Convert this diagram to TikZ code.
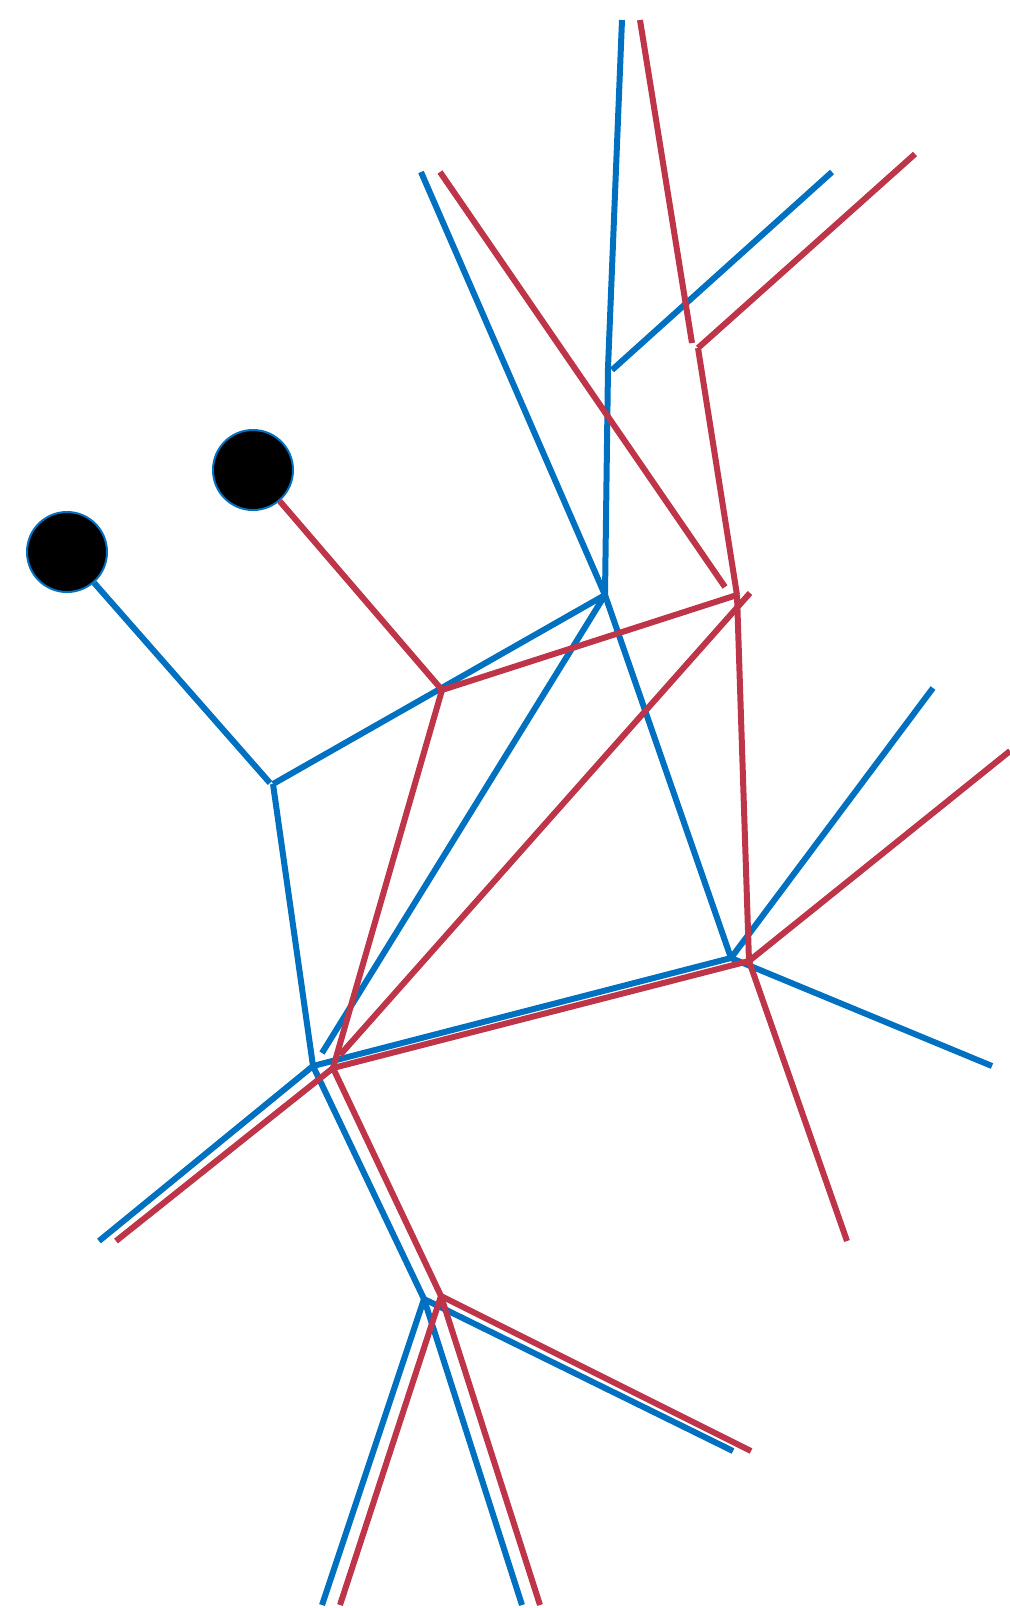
\documentclass[tikz,border=0pt]{standalone}
\usepackage{xcolor}
\usepackage{tikz}
\usetikzlibrary{positioning}

\definecolor{treeblue}{RGB}{0,112,192}
\definecolor{treered}{RGB}{190,52,72}

\begin{document}
\begin{tikzpicture}[x=0.1mm, y=-0.1mm,
        blueline/.style={draw=treeblue, line width=0.6mm},
        redline/.style={draw=treered, line width=0.6mm},
        dot/.style={circle, draw=treeblue, line width=0.2mm, fill=black,
                    minimum size=8mm, inner sep=0pt}]

        \useasboundingbox (0,0) rectangle (1010,1608);

        % blue tree
        \coordinate (bTop)  at (622,20);
        \coordinate (bTL)   at (421,172);
        \coordinate (bUR)   at (832,172);
        \coordinate (bJa)   at (608,368);
        \coordinate (bJa2)  at (612,370);
        \coordinate (bJb)   at (605,595);
        \coordinate (bJc)   at (270,783);
        \coordinate (bJc2)  at (273,784);
        \coordinate (bJd)   at (313,1066);
        \coordinate (bJdd)  at (322,1053);
        \coordinate (bJe)   at (731,958);
        \coordinate (bUR2)  at (933,688);
        \coordinate (bLR)   at (992,1066);
        \coordinate (bLL)   at (99,1241);
        \coordinate (bJf)   at (424,1299);
        \coordinate (bBL)   at (322,1605);
        \coordinate (bBR)   at (522,1605);
        \coordinate (bBRR)  at (733,1451);

        % red tree
        \coordinate (rTop)  at (640,20);
        \coordinate (rTL)   at (440,172);
        \coordinate (rTLe)  at (725,587);
        \coordinate (rUR)   at (915,154);
        \coordinate (rJa)   at (692,343);
        \coordinate (rJa2)  at (698,348);
        \coordinate (rJb)   at (737,595);
        \coordinate (rJb2)  at (750,593);
        \coordinate (rJc)   at (442,690);
        \coordinate (rJd)   at (333,1068);
        \coordinate (rJdd)  at (340,1055);
        \coordinate (rJe)   at (749,961);
        \coordinate (rRE)   at (1010,751);
        \coordinate (rLR)   at (847,1241);
        \coordinate (rLL)   at (116,1241);
        \coordinate (rJf)   at (441,1296);
        \coordinate (rBL)   at (340,1605);
        \coordinate (rBR)   at (540,1605);
        \coordinate (rBRR)  at (751,1451);

        \node[dot] (leafA) at (67,552) {};
        \node[dot] (leafB) at (253,470) {};

        \draw[blueline] (bTop) -- (bJa);
        \draw[blueline] (bJa2) -- (bUR);
        \draw[blueline] (bJa)  -- (bJb);
        \draw[blueline] (bTL)  -- (bJb) -- (bJe);
        \draw[blueline] (bJc2) -- (bJb);
        \draw[blueline] (leafA) -- (bJc);
        \draw[blueline] (bJc2) -- (bJd);
        \draw[blueline] (bJb)  -- (bJdd);
        \draw[blueline] (bJd)  -- (bJe);
        \draw[blueline] (bJe)  -- (bUR2);
        \draw[blueline] (bJe)  -- (bLR);
        \draw[blueline] (bJd)  -- (bLL);
        \draw[blueline] (bJd)  -- (bJf);
        \draw[blueline] (bJf)  -- (bBL);
        \draw[blueline] (bJf)  -- (bBR);
        \draw[blueline] (bJf)  -- (bBRR);

        \draw[redline] (rTop) -- (rJa);
        \draw[redline] (rJa2) -- (rUR);
        \draw[redline] (rJa2) -- (rJb);
        \draw[redline] (rTL)  -- (rTLe);
        \draw[redline] (leafB) -- (rJc);
        \draw[redline] (rJc)  -- (rJb);
        \draw[redline] (rJc)  -- (rJd);
        \draw[redline] (rJb2) -- (rJdd);
        \draw[redline] (rJb)  -- (rJe);
        \draw[redline] (rJd)  -- (rJe);
        \draw[redline] (rJe)  -- (rRE);
        \draw[redline] (rJe)  -- (rLR);
        \draw[redline] (rJd)  -- (rLL);
        \draw[redline] (rJd)  -- (rJf);
        \draw[redline] (rJf)  -- (rBL);
        \draw[redline] (rJf)  -- (rBR);
        \draw[redline] (rJf)  -- (rBRR);
    \end{tikzpicture}
\end{document}
